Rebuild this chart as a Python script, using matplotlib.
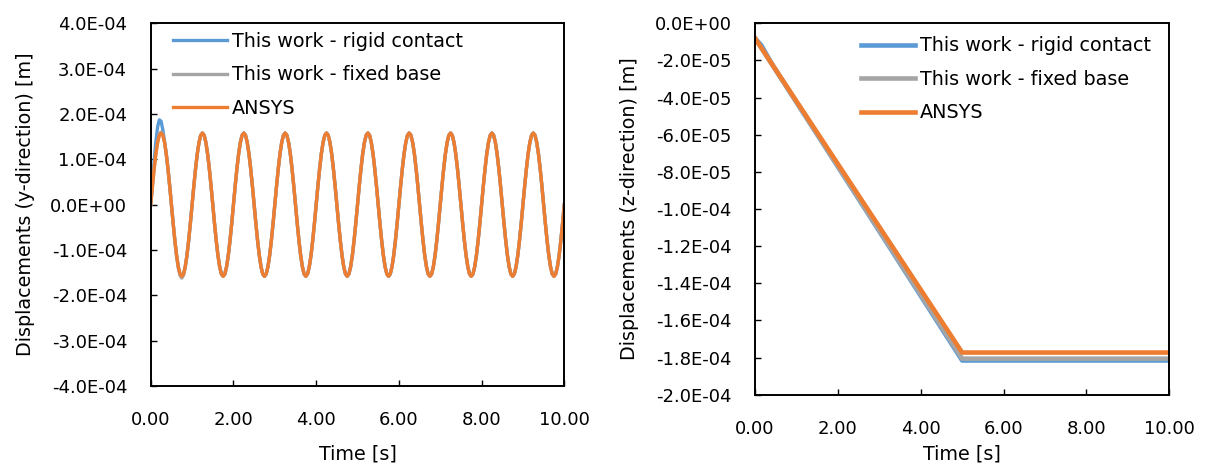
import matplotlib
matplotlib.use("Agg")
import matplotlib.pyplot as plt
from matplotlib.ticker import FuncFormatter

matplotlib.rcParams['font.family'] = "DejaVu Sans"

# values in units of 1E-4 m
UNIT = 1e-4

# y-direction, read every 1/24 s
t_y = [i / 24 for i in range(241)]

y_rigid = [
    0.00, 0.50, 0.98, 1.40, 1.72, 1.87, 1.84, 1.65, 1.40, 1.12, 0.79, 0.41,
    0.00, -0.41, -0.79, -1.12, -1.37, -1.53, -1.58, -1.53, -1.37, -1.12, -0.79, -0.41,
    0.00, 0.41, 0.79, 1.12, 1.37, 1.53, 1.58, 1.53, 1.37, 1.12, 0.79, 0.41,
    0.00, -0.41, -0.79, -1.12, -1.37, -1.53, -1.58, -1.53, -1.37, -1.12, -0.79, -0.41,
    0.00, 0.41, 0.79, 1.12, 1.37, 1.53, 1.58, 1.53, 1.37, 1.12, 0.79, 0.41,
    0.00, -0.41, -0.79, -1.12, -1.37, -1.53, -1.58, -1.53, -1.37, -1.12, -0.79, -0.41,
    0.00, 0.41, 0.79, 1.12, 1.37, 1.53, 1.58, 1.53, 1.37, 1.12, 0.79, 0.41,
    0.00, -0.41, -0.79, -1.12, -1.37, -1.53, -1.58, -1.53, -1.37, -1.12, -0.79, -0.41,
    0.00, 0.41, 0.79, 1.12, 1.37, 1.53, 1.58, 1.53, 1.37, 1.12, 0.79, 0.41,
    0.00, -0.41, -0.79, -1.12, -1.37, -1.53, -1.58, -1.53, -1.37, -1.12, -0.79, -0.41,
    0.00, 0.41, 0.79, 1.12, 1.37, 1.53, 1.58, 1.53, 1.37, 1.12, 0.79, 0.41,
    0.00, -0.41, -0.79, -1.12, -1.37, -1.53, -1.58, -1.53, -1.37, -1.12, -0.79, -0.41,
    0.00, 0.41, 0.79, 1.12, 1.37, 1.53, 1.58, 1.53, 1.37, 1.12, 0.79, 0.41,
    0.00, -0.41, -0.79, -1.12, -1.37, -1.53, -1.58, -1.53, -1.37, -1.12, -0.79, -0.41,
    0.00, 0.41, 0.79, 1.12, 1.37, 1.53, 1.58, 1.53, 1.37, 1.12, 0.79, 0.41,
    0.00, -0.41, -0.79, -1.12, -1.37, -1.53, -1.58, -1.53, -1.37, -1.12, -0.79, -0.41,
    0.00, 0.41, 0.79, 1.12, 1.37, 1.53, 1.58, 1.53, 1.37, 1.12, 0.79, 0.41,
    0.00, -0.41, -0.79, -1.12, -1.37, -1.53, -1.58, -1.53, -1.37, -1.12, -0.79, -0.41,
    0.00, 0.41, 0.79, 1.12, 1.37, 1.53, 1.58, 1.53, 1.37, 1.12, 0.79, 0.41,
    0.00, -0.41, -0.79, -1.12, -1.37, -1.53, -1.58, -1.53, -1.37, -1.12, -0.79, -0.41,
    0.00]

y_fixed = [
    0.00, 0.42, 0.81, 1.15, 1.40, 1.56, 1.60, 1.55, 1.38, 1.12, 0.79, 0.41,
    0.00, -0.42, -0.81, -1.14, -1.40, -1.56, -1.62, -1.56, -1.39, -1.13, -0.80, -0.41,
    0.00, 0.41, 0.79, 1.12, 1.37, 1.53, 1.58, 1.53, 1.37, 1.12, 0.79, 0.41,
    0.00, -0.41, -0.79, -1.12, -1.37, -1.53, -1.58, -1.53, -1.37, -1.12, -0.79, -0.41,
    0.00, 0.41, 0.79, 1.12, 1.37, 1.53, 1.58, 1.53, 1.37, 1.12, 0.79, 0.41,
    0.00, -0.41, -0.79, -1.12, -1.37, -1.53, -1.58, -1.53, -1.37, -1.12, -0.79, -0.41,
    0.00, 0.41, 0.79, 1.12, 1.37, 1.53, 1.58, 1.53, 1.37, 1.12, 0.79, 0.41,
    0.00, -0.41, -0.79, -1.12, -1.37, -1.53, -1.58, -1.53, -1.37, -1.12, -0.79, -0.41,
    0.00, 0.41, 0.79, 1.12, 1.37, 1.53, 1.58, 1.53, 1.37, 1.12, 0.79, 0.41,
    0.00, -0.41, -0.79, -1.12, -1.37, -1.53, -1.58, -1.53, -1.37, -1.12, -0.79, -0.41,
    0.00, 0.41, 0.79, 1.12, 1.37, 1.53, 1.58, 1.53, 1.37, 1.12, 0.79, 0.41,
    0.00, -0.41, -0.79, -1.12, -1.37, -1.53, -1.58, -1.53, -1.37, -1.12, -0.79, -0.41,
    0.00, 0.41, 0.79, 1.12, 1.37, 1.53, 1.58, 1.53, 1.37, 1.12, 0.79, 0.41,
    0.00, -0.41, -0.79, -1.12, -1.37, -1.53, -1.58, -1.53, -1.37, -1.12, -0.79, -0.41,
    0.00, 0.41, 0.79, 1.12, 1.37, 1.53, 1.58, 1.53, 1.37, 1.12, 0.79, 0.41,
    0.00, -0.41, -0.79, -1.12, -1.37, -1.53, -1.58, -1.53, -1.37, -1.12, -0.79, -0.41,
    0.00, 0.41, 0.79, 1.12, 1.37, 1.53, 1.58, 1.53, 1.37, 1.12, 0.79, 0.41,
    0.00, -0.41, -0.79, -1.12, -1.37, -1.53, -1.58, -1.53, -1.37, -1.12, -0.79, -0.41,
    0.00, 0.41, 0.79, 1.12, 1.37, 1.53, 1.58, 1.53, 1.37, 1.12, 0.79, 0.41,
    0.00, -0.41, -0.79, -1.12, -1.37, -1.53, -1.58, -1.53, -1.37, -1.12, -0.79, -0.41,
    0.00]

y_ansys = [
    0.00, 0.41, 0.79, 1.12, 1.37, 1.53, 1.58, 1.53, 1.37, 1.12, 0.79, 0.41,
    0.00, -0.41, -0.79, -1.12, -1.37, -1.53, -1.58, -1.53, -1.37, -1.12, -0.79, -0.41,
    0.00, 0.41, 0.79, 1.12, 1.37, 1.53, 1.58, 1.53, 1.37, 1.12, 0.79, 0.41,
    0.00, -0.41, -0.79, -1.12, -1.37, -1.53, -1.58, -1.53, -1.37, -1.12, -0.79, -0.41,
    0.00, 0.41, 0.79, 1.12, 1.37, 1.53, 1.58, 1.53, 1.37, 1.12, 0.79, 0.41,
    0.00, -0.41, -0.79, -1.12, -1.37, -1.53, -1.58, -1.53, -1.37, -1.12, -0.79, -0.41,
    0.00, 0.41, 0.79, 1.12, 1.37, 1.53, 1.58, 1.53, 1.37, 1.12, 0.79, 0.41,
    0.00, -0.41, -0.79, -1.12, -1.37, -1.53, -1.58, -1.53, -1.37, -1.12, -0.79, -0.41,
    0.00, 0.41, 0.79, 1.12, 1.37, 1.53, 1.58, 1.53, 1.37, 1.12, 0.79, 0.41,
    0.00, -0.41, -0.79, -1.12, -1.37, -1.53, -1.58, -1.53, -1.37, -1.12, -0.79, -0.41,
    0.00, 0.41, 0.79, 1.12, 1.37, 1.53, 1.58, 1.53, 1.37, 1.12, 0.79, 0.41,
    0.00, -0.41, -0.79, -1.12, -1.37, -1.53, -1.58, -1.53, -1.37, -1.12, -0.79, -0.41,
    0.00, 0.41, 0.79, 1.12, 1.37, 1.53, 1.58, 1.53, 1.37, 1.12, 0.79, 0.41,
    0.00, -0.41, -0.79, -1.12, -1.37, -1.53, -1.58, -1.53, -1.37, -1.12, -0.79, -0.41,
    0.00, 0.41, 0.79, 1.12, 1.37, 1.53, 1.58, 1.53, 1.37, 1.12, 0.79, 0.41,
    0.00, -0.41, -0.79, -1.12, -1.37, -1.53, -1.58, -1.53, -1.37, -1.12, -0.79, -0.41,
    0.00, 0.41, 0.79, 1.12, 1.37, 1.53, 1.58, 1.53, 1.37, 1.12, 0.79, 0.41,
    0.00, -0.41, -0.79, -1.12, -1.37, -1.53, -1.58, -1.53, -1.37, -1.12, -0.79, -0.41,
    0.00, 0.41, 0.79, 1.12, 1.37, 1.53, 1.58, 1.53, 1.37, 1.12, 0.79, 0.41,
    0.00, -0.41, -0.79, -1.12, -1.37, -1.53, -1.58, -1.53, -1.37, -1.12, -0.79, -0.41,
    0.00]

# z-direction
t_z_rigid = [0.0, 0.15, 0.4, 5.0, 10.0]
z_rigid = [-0.081, -0.118, -0.216, -1.816, -1.816]
t_z = [0.0, 5.0, 10.0]
z_fixed = [-0.081, -1.806, -1.806]
z_ansys = [-0.081, -1.773, -1.773]

labels = ['This work - rigid contact', 'This work - fixed base', 'ANSYS']
colors = ['#5B9BD5', '#A5A5A5', '#ED7D31']

fig = plt.figure(figsize=(12.05, 4.65), dpi=100)
ax1 = fig.add_axes([0.1251, 0.1699, 0.3432, 0.7800])
ax2 = fig.add_axes([0.6266, 0.1512, 0.3438, 0.7987])

lw1 = 2.4
ax1.plot(t_y, [v * UNIT for v in y_rigid], color=colors[0], lw=lw1, label=labels[0])
ax1.plot(t_y, [v * UNIT for v in y_fixed], color=colors[1], lw=lw1, label=labels[1])
ax1.plot(t_y, [v * UNIT for v in y_ansys], color=colors[2], lw=lw1, label=labels[2])

lw2 = 3.3
ax2.plot(t_z_rigid, [v * UNIT for v in z_rigid], color=colors[0], lw=lw2, label=labels[0])
ax2.plot(t_z, [v * UNIT for v in z_fixed], color=colors[1], lw=lw2, label=labels[1])
ax2.plot(t_z, [v * UNIT for v in z_ansys], color=colors[2], lw=lw2, label=labels[2])

ax1.set_ylim(-4e-4, 4e-4)
ax1.set_yticks([i * 1e-4 for i in range(-4, 5)])
ax2.set_ylim(-2e-4, 0)
ax2.set_yticks([i * 2e-5 for i in range(-10, 1)])

for ax in (ax1, ax2):
    ax.set_xlim(0, 10)
    ax.set_xticks([0, 2, 4, 6, 8, 10])
    ax.xaxis.set_major_formatter(FuncFormatter(lambda v, p: f"{v:.2f}"))
    ax.yaxis.set_major_formatter(FuncFormatter(lambda v, p: f"{v + 0.0:.1E}"))
    ax.tick_params(axis='both', direction='in', width=1.0, labelsize=13,
                   top=False, right=False)
    ax.tick_params(axis='x', length=4, pad=18)
    ax.tick_params(axis='y', length=4.5, pad=17)
    for s in ax.spines.values():
        s.set_linewidth(1.4)
        s.set_color('black')
    ax.set_xlabel('Time [s]', fontsize=13.8)

ax1.set_ylabel('Displacements (y-direction) [m]', fontsize=13.8)
ax2.set_ylabel('Displacements (z-direction) [m]', fontsize=13.8)
ax1.yaxis.set_label_coords(-0.28, 0.5)
ax2.yaxis.set_label_coords(-0.28, 0.5)
ax1.xaxis.set_label_coords(0.5, -0.161)
ax2.xaxis.set_label_coords(0.5, -0.133)

leg_kw = dict(loc='upper left', frameon=False, fontsize=13.8, borderpad=0,
              borderaxespad=0, handlelength=2.8, handletextpad=0.28,
              labelspacing=0.75)
ax1.legend(bbox_to_anchor=(0.054, 0.976), **leg_kw)
ax2.legend(bbox_to_anchor=(0.256, 0.9645), **leg_kw)

plt.savefig('out.png', dpi=100)
